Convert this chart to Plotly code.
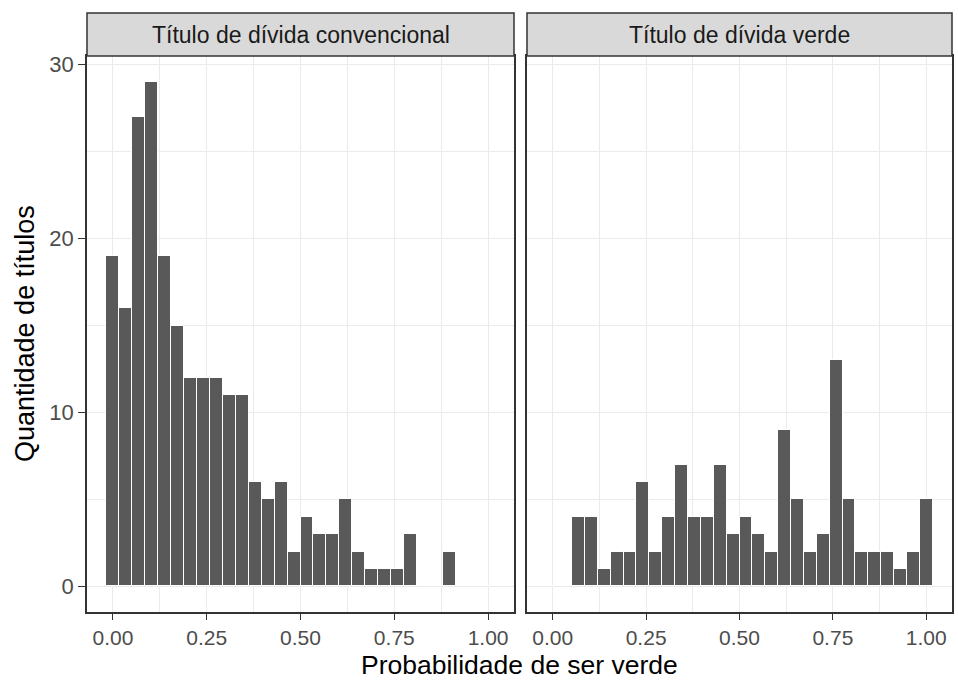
import numpy as np
import plotly.graph_objects as go

# ---- data (30 histogram bins over [0, 1]) ----
n_bins = 30
bin_width = 1 / (n_bins - 1)
bin_centers = [k * bin_width for k in range(n_bins)]

conv_counts = [19, 16, 27, 29, 19, 15, 12, 12, 12, 11,
               11, 6, 5, 6, 2, 4, 3, 3, 5, 2,
               1, 1, 1, 3, 0, 0, 2, 0, 0, 0]
green_counts = [0, 0, 4, 4, 1, 2, 2, 6, 2, 4,
                7, 4, 4, 7, 3, 4, 3, 2, 9, 5,
                2, 3, 13, 5, 2, 2, 2, 1, 2, 5]

panel_titles = ["Título de dívida convencional", "Título de dívida verde"]
x_ticks = [0, 0.25, 0.5, 0.75, 1.0]
y_ticks = [0, 10, 20, 30]

FONT = "Liberation Sans, Arial, sans-serif"
BAR = "#595959"
GRID = "#EBEBEB"
BORDER = "#333333"

fig = go.Figure()
for i, counts in enumerate([conv_counts, green_counts]):
    fig.add_trace(go.Bar(
        x=bin_centers, y=counts, width=bin_width,
        marker=dict(color=BAR, line=dict(color="white", width=1)),
        xaxis="x" if i == 0 else "x2", yaxis="y" if i == 0 else "y2",
        showlegend=False, hoverinfo="x+y"))

W, H = 958, 681
m_l, m_r, m_t, m_b = 87, 6, 13, 69
plot_w = W - m_l - m_r
plot_h = H - m_t - m_b
panel_top_px = 56
y_dom_top = 1 - (panel_top_px - m_t) / plot_h
left_end = (514 - m_l) / plot_w
right_start = (527 - m_l) / plot_w

xr = [-0.069, 1.069]
yr = [-1.47, 30.5]

common_x = dict(range=xr, tickvals=x_ticks, tickformat=".2f", showgrid=True,
                gridcolor=GRID, gridwidth=1.3, zeroline=False,
                minor=dict(dtick=0.125, tick0=0, showgrid=True, gridcolor=GRID, gridwidth=0.7),
                showline=True, linecolor=BORDER, linewidth=1.5, mirror=True,
                ticks="outside", ticklen=6, tickcolor=BORDER, tickwidth=1.3,
                tickfont=dict(family=FONT, size=21, color="#4D4D4D"))
common_y = dict(range=yr, tickvals=y_ticks, showgrid=True, gridcolor=GRID, gridwidth=1.3,
                zeroline=False,
                minor=dict(dtick=5, tick0=0, showgrid=True, gridcolor=GRID, gridwidth=0.7),
                showline=True, linecolor=BORDER, linewidth=1.5, mirror=True,
                domain=[0, y_dom_top])

fig.update_layout(
    width=W, height=H,
    margin=dict(l=m_l, r=m_r, t=m_t, b=m_b, autoexpand=False),
    paper_bgcolor="white", plot_bgcolor="white",
    bargap=0,
    font=dict(family=FONT, color="#1A1A1A"),
    xaxis=dict(domain=[0, left_end], anchor="y", automargin=False, **common_x),
    xaxis2=dict(domain=[right_start, 1], anchor="y2", automargin=False, **common_x),
    yaxis=dict(anchor="x", ticks="outside", ticklen=7, tickcolor=BORDER, tickwidth=1.3,
               automargin=False,
               tickfont=dict(family=FONT, size=22, color="#4D4D4D"), **common_y),
    yaxis2=dict(anchor="x2", showticklabels=False, ticks="", automargin=False, **common_y),
)

# facet strips
for x0, x1, title in [(0, left_end, panel_titles[0]), (right_start, 1, panel_titles[1])]:
    fig.add_shape(type="rect", xref="paper", yref="paper", x0=x0, x1=x1,
                  y0=y_dom_top, y1=1, fillcolor="#D9D9D9",
                  line=dict(color=BORDER, width=1.5), layer="above")
    fig.add_annotation(xref="paper", yref="paper", x=(x0 + x1) / 2, y=(y_dom_top + 1) / 2,
                       text=title, showarrow=False, xanchor="center", yanchor="middle",
                       font=dict(family=FONT, size=23, color="#1A1A1A"))

# axis titles
fig.add_annotation(xref="paper", yref="paper", x=0.5, y=-(665 - (H - m_b)) / plot_h,
                   text="Probabilidade de ser verde", showarrow=False,
                   xanchor="center", yanchor="middle", borderpad=0,
                   font=dict(family=FONT, size=26.5, color="#000000"))
fig.add_annotation(xref="paper", yref="paper", x=-(m_l - 25) / plot_w,
                   y=(y_dom_top) / 2, text="Quantidade de títulos", textangle=-90,
                   showarrow=False, xanchor="center", yanchor="middle",
                   font=dict(family=FONT, size=27, color="#000000"))

fig.write_html("out.html", config={"displayModeBar": False},
               post_script="document.body.style.margin='0';")
